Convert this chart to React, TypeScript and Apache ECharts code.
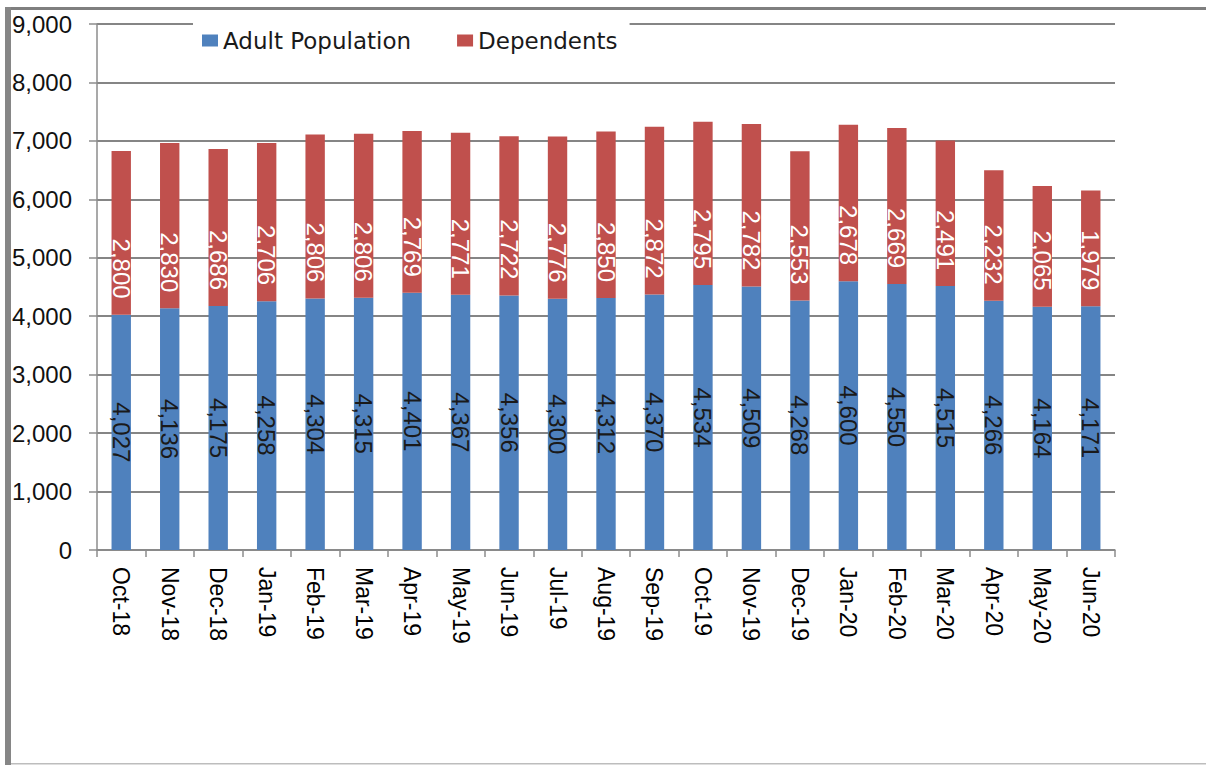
import React, { useEffect, useRef } from "react";
import * as echarts from "echarts";

const categories = [
  "Oct-18", "Nov-18", "Dec-18", "Jan-19", "Feb-19", "Mar-19", "Apr-19", "May-19",
  "Jun-19", "Jul-19", "Aug-19", "Sep-19", "Oct-19", "Nov-19", "Dec-19", "Jan-20",
  "Feb-20", "Mar-20", "Apr-20", "May-20", "Jun-20",
];
const adultPopulation = [
  4027, 4136, 4175, 4258, 4304, 4315, 4401, 4367, 4356, 4300, 4312, 4370, 4534,
  4509, 4268, 4600, 4550, 4515, 4266, 4164, 4171,
];
const dependents = [
  2800, 2830, 2686, 2706, 2806, 2806, 2769, 2771, 2722, 2776, 2850, 2872, 2795,
  2782, 2553, 2678, 2669, 2491, 2232, 2065, 1979,
];
const yMin = 0;
const yMax = 9000;
const yInterval = 1000;

const fmt = (v: number) => Number(v).toLocaleString("en-US");

export default function App() {
  const ref = useRef<HTMLDivElement>(null);
  useEffect(() => {
    if (!ref.current) return;
    const chart = echarts.init(ref.current, undefined, { renderer: "svg" });
    chart.setOption({
      animation: false,
      backgroundColor: "#ffffff",
      grid: { left: 97, right: 91, top: 24, bottom: 215, containLabel: false },
      legend: {
        left: 193,
        top: 19,
        padding: [10, 12, 10, 9],
        backgroundColor: "#ffffff",
        itemWidth: 16,
        itemHeight: 12,
        itemGap: 46,
        icon: "rect",
        textStyle: { fontFamily: "DejaVu Sans", fontSize: 23, color: "#1a1a1a" },
        data: ["Adult Population", "Dependents"],
      },
      xAxis: {
        type: "category",
        data: categories,
        boundaryGap: true,
        axisLine: { show: true, lineStyle: { color: "#8c8c8c", width: 1.5 } },
        axisTick: { show: true, alignWithLabel: false, length: 7, lineStyle: { color: "#8c8c8c", width: 1.5 } },
        axisLabel: {
          rotate: -90,
          margin: 17,
          fontFamily: "Liberation Sans",
          fontSize: 23,
          color: "#000000",
        },
        splitLine: { show: false },
      },
      yAxis: {
        type: "value",
        min: yMin,
        max: yMax,
        interval: yInterval,
        axisLine: { show: true, lineStyle: { color: "#8c8c8c", width: 1.5 } },
        axisTick: { show: true, length: 8, lineStyle: { color: "#8c8c8c", width: 1.5 } },
        axisLabel: {
          margin: 25,
          fontFamily: "Liberation Sans",
          fontSize: 24,
          color: "#111111",
          formatter: (v: number) => fmt(v),
        },
        splitLine: { show: true, lineStyle: { color: "#858585", width: 1.8 } },
      },
      series: [
        {
          name: "Adult Population",
          type: "bar",
          stack: "total",
          barWidth: "40%",
          data: adultPopulation,
          itemStyle: { color: "#4F81BD" },
          label: {
            show: true,
            position: "inside",
            rotate: -90,
            fontFamily: "Liberation Sans",
            fontSize: 24,
            color: "#1a1a1a",
            formatter: (p: any) => fmt(p.value),
          },
        },
        {
          name: "Dependents",
          type: "bar",
          stack: "total",
          barWidth: "40%",
          data: dependents,
          itemStyle: { color: "#C0504D" },
          label: {
            show: true,
            position: "insideBottom",
            distance: 16,
            rotate: -90,
            align: "right",
            verticalAlign: "middle",
            fontFamily: "Liberation Sans",
            fontSize: 24,
            color: "#ffffff",
            formatter: (p: any) => fmt(p.value),
          },
        },
      ],
      graphic: [
        { type: "rect", shape: { x: 5, y: 7, width: 1201, height: 3 }, style: { fill: "#7f7f7f" }, z: 100 },
        { type: "rect", shape: { x: 5, y: 7, width: 6, height: 758 }, style: { fill: "#868686" }, z: 100 },
        { type: "rect", shape: { x: 11, y: 763, width: 1195, height: 1.5 }, style: { fill: "#bdbdbd" }, z: 100 },
      ],
    });
    return () => chart.dispose();
  }, []);
  return (
    <div
      ref={ref}
      style={{ position: "fixed", left: 0, top: 0, width: 1206, height: 765, background: "#fff" }}
    />
  );
}
